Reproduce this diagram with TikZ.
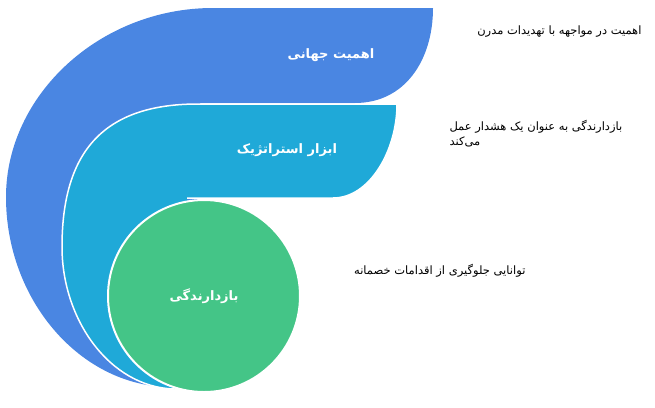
\documentclass[tikz,border=0pt]{standalone}
\usepackage{fontspec}
\newfontfamily\arabicfont[Script=Arabic]{DejaVu Sans}
\TeXXeTstate=1
\usetikzlibrary{positioning,calc}
\pgfdeclarelayer{bg}
\pgfsetlayers{bg,main}
\definecolor{swirlblue}{RGB}{74,134,226}
\definecolor{swirlcyan}{RGB}{31,169,216}
\definecolor{swirlgreen}{RGB}{68,197,135}
\tikzset{
  rim/.style={draw=white, line width=1.5pt},
  title/.style={text=white, font=\arabicfont\bfseries\fontsize{13}{15}\selectfont},
  note/.style={text=black, font=\arabicfont\fontsize{11.5}{15}\selectfont, align=left},
}

\begin{document}
\begin{tikzpicture}[x=1pt,y=-1pt]
    \useasboundingbox (0,0) rectangle (655,407);

    \begin{pgfonlayer}{bg}    % the two bands behind the core
        \fill[swirlblue] (213,8) -- (433,8)
            .. controls (433,60) and (405,103) .. (355,103) -- (200,103) -- (200,300) -- (168,387)
            .. controls (80,385) and (6,300) .. (6,197)
            .. controls (6,95) and (100,8) .. (213,8) -- cycle;
        \fill[swirlcyan] (198,104) -- (397,104)
            .. controls (397,150) and (370,198) .. (333,198) -- (187,198) -- (187,300) -- (174,389)
            .. controls (110,387) and (62,320) .. (62,247)
            .. controls (62,150) and (105,104) .. (198,104) -- cycle;
        \draw[rim] (187,198) -- (333,198) .. controls (370,198) and (397,150) .. (397,104) -- (198,104)
            .. controls (105,104) and (62,150) .. (62,247)
            .. controls (62,320) and (110,387) .. (174,389);
    \end{pgfonlayer}

    \node [title, circle, minimum size=192pt, fill=swirlgreen, rim, line width=2pt] (core) at (204,296) {\beginR بازدارندگی\endR};
    \node [title] (global) at (331,55) {\beginR اهمیت جهانی\endR};
    \node [title] (tool) at (287,150) {\beginR ابزار استراتژیک\endR};

    \node [note, anchor=east] (threat) at (645,32) {\beginR اهمیت در مواجهه با تهدیدات مدرن\endR};
    \node [note, anchor=west] (warn) at (446,134) {\beginR بازدارندگی به عنوان یک هشدار عمل\endR\\\beginR می‌کند\endR};
    \node [note, anchor=east] (hostile) at (529,271) {\beginR توانایی جلوگیری از اقدامات خصمانه\endR};

\end{tikzpicture}
\end{document}
